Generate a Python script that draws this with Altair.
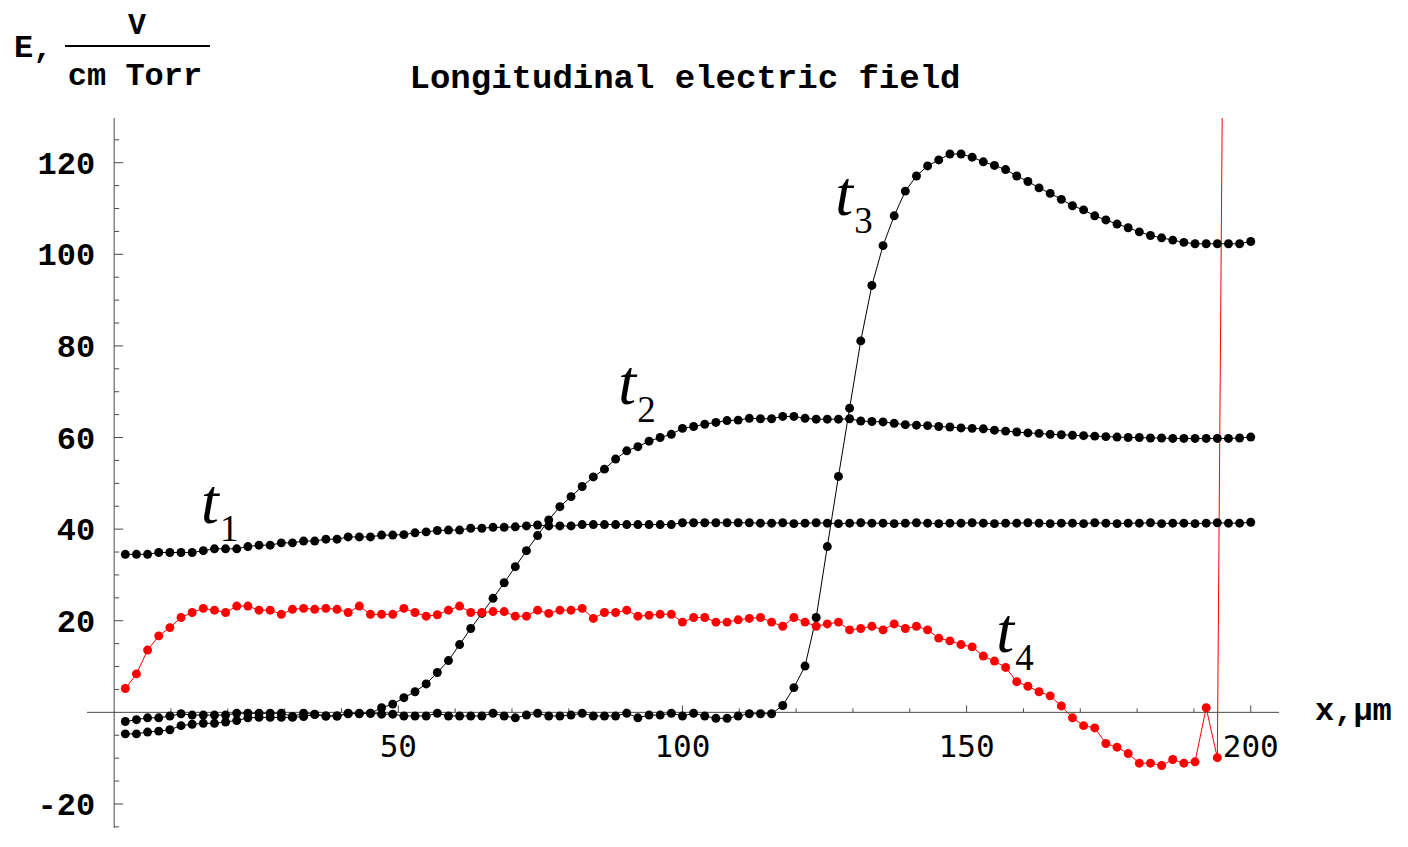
import altair as alt
import pandas as pd

# sample grid of the simulation (x, micrometres)
X_GRID = [round(200 * j / 102, 3) for j in range(1, 103)]

T1 = [34.5, 34.5, 34.5, 34.9, 34.9, 34.9, 34.9, 35.3, 35.7, 35.7,
      35.7, 36.2, 36.5, 36.5, 37.0, 37.0, 37.4, 37.4, 37.8, 37.8,
      38.3, 38.3, 38.3, 38.7, 38.7, 38.8, 39.2, 39.4, 39.7, 39.8,
      39.8, 40.2, 40.2, 40.4, 40.4, 40.5, 40.7, 40.9, 40.7, 40.7,
      40.7, 41.0, 41.0, 41.0, 41.0, 41.0, 41.0, 41.0, 41.0, 41.0,
      41.4, 41.4, 41.4, 41.4, 41.4, 41.4, 41.4, 41.3, 41.3, 41.4,
      41.2, 41.3, 41.4, 41.3, 41.2, 41.3, 41.4, 41.3, 41.3, 41.2,
      41.3, 41.4, 41.3, 41.2, 41.3, 41.3, 41.4, 41.3, 41.2, 41.3,
      41.3, 41.4, 41.3, 41.2, 41.3, 41.3, 41.2, 41.4, 41.3, 41.2,
      41.3, 41.3, 41.4, 41.2, 41.3, 41.3, 41.2, 41.3, 41.4, 41.3,
      41.3, 41.5]

T2 = [-4.7, -4.7, -4.3, -4.1, -3.8, -2.9, -2.6, -2.4, -2.4, -2.1,
      -1.8, -1.2, -1.1, -1.1, -1.1, -1.1, -0.9, -0.5, -0.8, -0.8,
      -0.3, -0.3, -0.2, 1.0, 1.8, 3.2, 4.5, 6.2, 8.7, 11.3,
      14.8, 18.3, 21.6, 24.9, 28.3, 31.8, 35.3, 38.6, 42.0, 44.9,
      47.1, 49.3, 51.4, 53.1, 55.3, 57.1, 58.0, 59.2, 60.0, 60.7,
      62.0, 62.4, 62.9, 63.3, 63.7, 63.8, 64.2, 64.1, 64.1, 64.6,
      64.6, 64.2, 64.0, 64.0, 64.0, 64.1, 63.6, 63.5, 63.4, 63.1,
      62.8, 62.7, 62.6, 62.4, 62.3, 62.1, 62.0, 61.9, 61.6, 61.4,
      61.2, 61.0, 60.9, 60.7, 60.6, 60.5, 60.4, 60.3, 60.2, 60.1,
      60.0, 60.0, 59.9, 59.9, 59.8, 59.8, 59.8, 59.8, 59.8, 59.8,
      59.9, 60.1]

T3 = [-2.0, -1.6, -1.2, -1.2, -0.8, -0.3, -0.6, -0.6, -0.6, -0.6,
      -0.2, -0.2, -0.2, -0.2, -0.2, -0.9, -0.2, -0.4, -0.8, -0.8,
      -0.2, -0.2, -0.2, -0.4, -0.4, -0.8, -0.8, -0.8, -0.2, -0.8,
      -0.8, -0.8, -0.8, -0.2, -0.8, -1.2, -0.6, -0.2, -0.8, -0.8,
      -0.6, -0.2, -0.8, -0.8, -0.8, -0.2, -1.2, -0.6, -0.6, -0.2,
      -0.8, -0.2, -0.8, -1.3, -1.3, -0.8, -0.3, -0.3, -0.3, 1.5,
      5.4, 10.1, 20.7, 36.2, 51.5, 66.4, 81.1, 93.2, 101.9, 108.4,
      113.8, 117.1, 119.3, 120.6, 121.9, 121.9, 121.2, 120.2, 119.4, 118.5,
      117.1, 115.9, 114.5, 113.3, 112.0, 110.6, 109.7, 108.4, 107.5, 106.6,
      105.8, 104.9, 104.1, 103.6, 103.1, 102.6, 102.3, 102.3, 102.3, 102.3,
      102.3, 102.8]

T4 = [5.2, 8.4, 13.6, 16.7, 18.5, 20.7, 21.8, 22.7, 22.3, 21.8,
      23.2, 23.2, 22.3, 22.3, 21.4, 22.5, 22.7, 22.5, 22.7, 22.5,
      21.8, 23.2, 21.4, 21.4, 21.4, 22.7, 21.8, 21.0, 21.3, 22.3,
      23.2, 21.8, 21.8, 22.0, 22.0, 21.0, 21.0, 22.3, 21.6, 22.3,
      22.3, 22.7, 20.5, 21.8, 21.8, 22.3, 21.0, 21.2, 21.4, 21.4,
      19.7, 20.7, 20.7, 19.7, 19.7, 20.2, 20.5, 20.7, 19.7, 18.8,
      20.7, 19.7, 18.8, 19.3, 19.7, 18.0, 18.3, 18.8, 18.0, 19.3,
      18.3, 18.8, 18.0, 16.2, 15.6, 14.8, 14.3, 12.3, 11.2, 9.8,
      6.7, 5.7, 4.5, 3.6, 1.4, -1.2, -2.9, -3.4, -6.8, -7.6,
      -9.0, -11.1, -11.1, -11.6, -10.3, -11.1, -10.8, 1.0, -9.9, 310.0]

SERIES = ["t1", "t2", "t3", "t4"]
COLORS = ["#000000", "#000000", "#000000", "#ff0000"]

LABEL_X = [15.3, 88.7, 126.9, 155.2]
LABEL_Y = [41.3, 67.3, 108.6, 13.2]
LABEL_MAIN = ["t", "t", "t", "t"]
LABEL_SUB = ["1", "2", "3", "4"]

X_TICKS_MAJOR = [50, 100, 150, 200]
X_TICKS_MINOR = [10, 20, 30, 40, 60, 70, 80, 90, 110, 120, 130, 140, 160, 170, 180, 190]
X_TICK_LABELS = ["50", "100", "150", "200"]
Y_TICKS_MAJOR = [-20, 20, 40, 60, 80, 100, 120]
Y_TICK_LABELS = ["-20", "20", "40", "60", "80", "100", "120"]
Y_TICKS_MINOR = [-25, -15, -10, -5, 5, 10, 15, 25, 30, 35, 45, 50, 55, 65, 70, 75,
                 85, 90, 95, 105, 110, 115, 125]

TITLE = "Longitudinal electric field"

rows = []
for name, vals in zip(SERIES, [T1, T2, T3, T4]):
    for xv, yv in zip(X_GRID, vals):
        rows.append({"x": xv, "E": yv, "series": name})
df = pd.DataFrame(rows)

W, H = 1192, 710
AX = "#4a4a4a"
xs = alt.Scale(domain=[-4.78, 204.97], nice=False, zero=False)
ys = alt.Scale(domain=[-25.25, 129.76], nice=False, zero=False)
color = alt.Color("series:N", scale=alt.Scale(domain=SERIES, range=COLORS), legend=None)
one = pd.DataFrame({"k": [0]})

x_axis_line = alt.Chart(one).mark_rule(color=AX, strokeWidth=1).encode(y=alt.datum(0))
y_axis_line = alt.Chart(one).mark_rule(color=AX, strokeWidth=1).encode(x=alt.datum(0))

xt_major = alt.Chart(pd.DataFrame({"v": X_TICKS_MAJOR})).mark_rule(
    color=AX, strokeWidth=1, y2Offset=-7).encode(
    x=alt.X("v:Q", scale=xs), y=alt.datum(0), y2=alt.datum(0))
xt_minor = alt.Chart(pd.DataFrame({"v": X_TICKS_MINOR})).mark_rule(
    color=AX, strokeWidth=1, y2Offset=-4).encode(
    x=alt.X("v:Q", scale=xs), y=alt.datum(0), y2=alt.datum(0))
yt_major = alt.Chart(pd.DataFrame({"v": Y_TICKS_MAJOR})).mark_rule(
    color=AX, strokeWidth=1, x2Offset=9).encode(
    y=alt.Y("v:Q", scale=ys), x=alt.datum(0), x2=alt.datum(0))
yt_minor = alt.Chart(pd.DataFrame({"v": Y_TICKS_MINOR})).mark_rule(
    color=AX, strokeWidth=1, x2Offset=5).encode(
    y=alt.Y("v:Q", scale=ys), x=alt.datum(0), x2=alt.datum(0))

x_labels = alt.Chart(pd.DataFrame({"v": X_TICKS_MAJOR, "lab": X_TICK_LABELS})).mark_text(
    font="DejaVu Sans Mono", fontSize=31, align="center", baseline="middle", dy=36,
    color="black").encode(x=alt.X("v:Q", scale=xs), y=alt.datum(0), text="lab:N")
y_labels = alt.Chart(pd.DataFrame({"v": Y_TICKS_MAJOR, "lab": Y_TICK_LABELS})).mark_text(
    font="Liberation Mono", fontWeight="bold", fontSize=32, align="right", baseline="middle",
    dx=-19, dy=1, color="black").encode(y=alt.Y("v:Q", scale=ys), x=alt.datum(0), text="lab:N")

lines = alt.Chart(df).mark_line(strokeWidth=1, clip=True).encode(
    x=alt.X("x:Q", scale=xs), y=alt.Y("E:Q", scale=ys), color=color)
points = alt.Chart(df).mark_circle(size=80, opacity=1, clip=True).encode(
    x=alt.X("x:Q", scale=xs), y=alt.Y("E:Q", scale=ys), color=color)

lab_df = pd.DataFrame({"x": LABEL_X, "y": LABEL_Y, "main": LABEL_MAIN, "sub": LABEL_SUB})
t_main = alt.Chart(lab_df).mark_text(
    font="Liberation Serif", fontStyle="italic", fontSize=64, align="left",
    baseline="alphabetic", color="black").encode(
    x=alt.X("x:Q", scale=xs), y=alt.Y("y:Q", scale=ys), text="main:N")
t_sub = alt.Chart(lab_df).mark_text(
    font="Liberation Serif", fontSize=37, align="left", baseline="alphabetic",
    dx=19, dy=18, color="black").encode(
    x=alt.X("x:Q", scale=xs), y=alt.Y("y:Q", scale=ys), text="sub:N")

MONO = dict(font="Liberation Mono", fontWeight="bold", color="black")
title_txt = alt.Chart(one).mark_text(text=TITLE, align="center", baseline="alphabetic",
                                     fontSize=34, **MONO).encode(
    x=alt.value(598), y=alt.value(-30))
e_txt = alt.Chart(one).mark_text(text="E,", align="left", baseline="alphabetic",
                                 fontSize=32, **MONO).encode(
    x=alt.value(-73), y=alt.value(-61))
v_txt = alt.Chart(one).mark_text(text="V", align="center", baseline="alphabetic",
                                 fontSize=30, **MONO).encode(
    x=alt.value(50), y=alt.value(-84))
frac = alt.Chart(one).mark_rule(color="black", strokeWidth=2).encode(
    x=alt.value(-22), x2=alt.value(123), y=alt.value(-72))
unit_txt = alt.Chart(one).mark_text(text="cm Torr", align="center", baseline="alphabetic",
                                    fontSize=32, **MONO).encode(
    x=alt.value(48), y=alt.value(-33))
xlab_txt = alt.Chart(one).mark_text(text="x,\u03bcm", align="left", baseline="alphabetic", dy=8,
                                    fontSize=32, **MONO).encode(
    x=alt.value(1228), y=alt.datum(0))

chart = alt.layer(
    x_axis_line, y_axis_line, xt_major, xt_minor, yt_major, yt_minor,
    x_labels, y_labels, lines, points, t_main, t_sub,
    title_txt, e_txt, v_txt, frac, unit_txt, xlab_txt,
).properties(
    width=W, height=H,
    autosize=alt.AutoSizeParams(type="none"),
    padding={"left": 79, "top": 110, "right": 121, "bottom": 0},
).configure_axis(disable=True).configure_view(stroke=None)

chart.save("out.html", embed_options={"renderer": "svg", "actions": False})
